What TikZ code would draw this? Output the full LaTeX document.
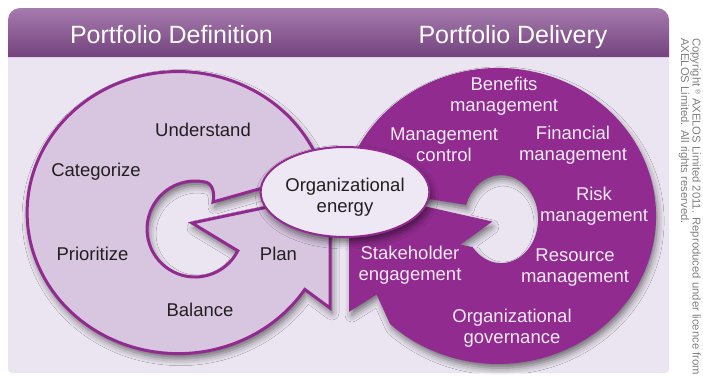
\documentclass[tikz,border=0pt]{standalone}
\usepackage{fontspec}
\setmainfont{Liberation Sans}
\usepackage{tikz}
\usetikzlibrary{shapes,shadows.blur}
\definecolor{axpurple}{HTML}{922B8F}
\definecolor{axlilac}{HTML}{D8C6E0}
\definecolor{axpanel}{HTML}{EBE5F1}
\definecolor{axoval}{HTML}{EEE8F4}
\definecolor{axtop}{HTML}{A57AAD}
\definecolor{axbottom}{HTML}{74437E}
\definecolor{axink}{HTML}{231F20}
\definecolor{axpale}{HTML}{F2EAF4}
\definecolor{notegray}{rgb}{0.5,0.5,0.5}

\begin{document}
\begin{tikzpicture}[x=1pt,y=-1pt,font=\fontsize{18.5}{21}\selectfont]
  \tikzstyle{soft_shadow}=[blur shadow={shadow xshift=2pt,shadow yshift=-5pt,shadow blur radius=7pt,shadow opacity=55}]
  \tikzstyle{dark_txt}=[align=center,text=axink,inner sep=0pt]
  \tikzstyle{pale_txt}=[align=center,text=axpale,inner sep=0pt]
  \tikzstyle{head_txt}=[anchor=base,text=white,inner sep=0pt,font=\fontsize{25}{30}\selectfont]

  \useasboundingbox (0,0) rectangle (703,376);

  % panel and header band
  \fill [axpanel,rounded corners=4] (8,40) rectangle (669,373);
  \shade [top color=axtop,bottom color=axbottom] (8,57) -- (8,20)
    arc[start angle=180,end angle=270,radius=12] -- (657,8)
    arc[start angle=270,end angle=360,radius=12] -- (669,57) -- cycle;
  \node [head_txt] (def_head) at (171.5,43) {Portfolio Definition};
  \node [head_txt] (del_head) at (513,43) {Portfolio Delivery};

  % left ring: definition
  \filldraw [fill=axlilac,draw=axpurple,line width=3pt,soft_shadow]
    (315,153) arc[start angle=-25,end angle=-327,x radius=151,y radius=141]
    -- (330,308) -- (330,232) -- (275,205.5) -- (192,223) -- (237.8,250.8)
    arc[start angle=27,end angle=280,radius=48]
    .. controls (213,182) and (215,194) .. (213,202) -- (280,183) -- cycle;

  % right ring: delivery
  \filldraw [fill=axpurple,draw=axpurple,line width=2pt,soft_shadow]
    (350.5,165.7) arc[start angle=200,end angle=493,x radius=157,y radius=147]
    -- (377,293) -- (350,310) -- (350,232) -- (410,204) -- (490,222)
    -- (458,245) -- (472,248)
    arc[start angle=140,end angle=-160,x radius=38,y radius=45]
    -- (410,195) -- cycle;

  % the oval in the middle
  \node [ellipse,draw=axpurple,fill=axoval,line width=2pt,soft_shadow,
    minimum width=166pt,minimum height=90pt,dark_txt,text height=44pt] (energy) at (345,192) {Organizational\\energy};

  % labels of the left ring
  \node [dark_txt,anchor=base] (understand) at (203,136.5) {Understand};
  \node [dark_txt,anchor=base] (categorize) at (96,176) {Categorize};
  \node [dark_txt,anchor=base] (prioritize) at (92.5,260) {Prioritize};
  \node [dark_txt,anchor=base] (plan) at (278.5,260) {Plan};
  \node [dark_txt,anchor=base] (balance) at (200,316.5) {Balance};

  % labels of the right ring
  \node [pale_txt] (benefits) at (504,96) {Benefits\\management};
  \node [pale_txt] (control) at (444,145) {Management\\control};
  \node [pale_txt] (financial) at (573,145) {Financial\\management};
  \node [pale_txt] (risk) at (594,206) {Risk\\management};
  \node [pale_txt] (resource) at (575,268) {Resource\\management};
  \node [pale_txt] (stakeholder) at (410,265) {Stakeholder\\engagement};
  \node [pale_txt] (governance) at (512,328) {Organizational\\governance};

  % copyright note
  \node [rotate=-90,anchor=north west,align=left,inner sep=0pt,text=notegray,
    font=\fontsize{11.3}{10.5}\selectfont] (note) at (701,38)
    {Copyright {\fontsize{7}{7}\selectfont\raisebox{3pt}{\textregistered}} AXELOS Limited 2011. Reproduced under licence from\\AXELOS Limited. All rights reserved.};
\end{tikzpicture}
\end{document}
